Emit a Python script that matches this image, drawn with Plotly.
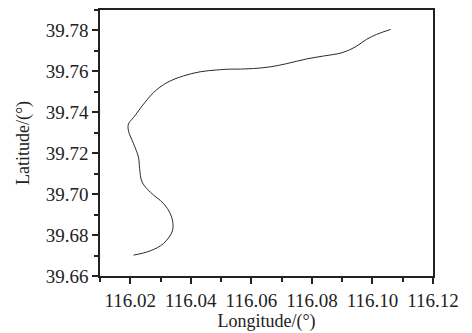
import plotly.graph_objects as go

lon = [116.0211, 116.0266, 116.0310, 116.0338, 116.0341, 116.0332, 116.0310,
       116.0266, 116.0239, 116.0231, 116.0227, 116.0211, 116.0194, 116.0194,
       116.0211, 116.0244, 116.0277, 116.0321, 116.0376, 116.0431, 116.0486,
       116.0530, 116.0552, 116.0607, 116.0662, 116.0717, 116.0783, 116.0838,
       116.0899, 116.0943, 116.0981, 116.1014, 116.1060]
lat = [39.6702, 39.6723, 39.6759, 39.6816, 39.6856, 39.6905, 39.6954,
       39.7010, 39.7059, 39.7124, 39.7181, 39.7246, 39.7310, 39.7343,
       39.7375, 39.7440, 39.7497, 39.7545, 39.7578, 39.7598, 39.7607,
       39.7611, 39.7611, 39.7614, 39.7622, 39.7638, 39.7661, 39.7675,
       39.7691, 39.7719, 39.7757, 39.7781, 39.7805]

x_ticks = [116.02, 116.04, 116.06, 116.08, 116.10, 116.12]
x_labels = ["116.02", "116.04", "116.06", "116.08", "116.10", "116.12"]
y_ticks = [39.66, 39.68, 39.70, 39.72, 39.74, 39.76, 39.78]
y_labels = ["39.66", "39.68", "39.70", "39.72", "39.74", "39.76", "39.78"]

fig = go.Figure()
fig.add_trace(go.Scatter(x=lon, y=lat, mode="lines", line_shape="spline",
                         line=dict(color="#2a2a2a", width=1)))

font_family = "Liberation Serif, Times New Roman, serif"
axis_common = dict(
    showgrid=False, zeroline=False, showline=True, linecolor="#222222",
    linewidth=1.6, mirror=True, ticks="outside", tickwidth=1.6,
    tickcolor="#222222", ticklen=6,
    tickfont=dict(family=font_family, size=19, color="#222222"),
)

fig.update_xaxes(range=[116.01, 116.12], tickvals=x_ticks, ticktext=x_labels,
                 minor=dict(dtick=0.01, tick0=116.01, ticks="outside", ticklen=4,
                            tickwidth=1.6, tickcolor="#222222"),
                 title=dict(text="Longitude/(°)", standoff=0,
                            font=dict(family=font_family, size=18, color="#222222")),
                 **axis_common)
fig.update_yaxes(range=[39.66, 39.79], tickvals=y_ticks, ticktext=y_labels,
                 minor=dict(dtick=0.01, tick0=39.65, ticks="outside", ticklen=4,
                            tickwidth=1.6, tickcolor="#222222"),
                 title=dict(text="Latitude/(°)", standoff=11,
                            font=dict(family=font_family, size=18, color="#222222")),
                 **axis_common)

fig.update_layout(width=472, height=333, showlegend=False,
                  margin=dict(l=100, r=39, t=8, b=57),
                  plot_bgcolor="white", paper_bgcolor="white")

fig.write_html("out.html")
